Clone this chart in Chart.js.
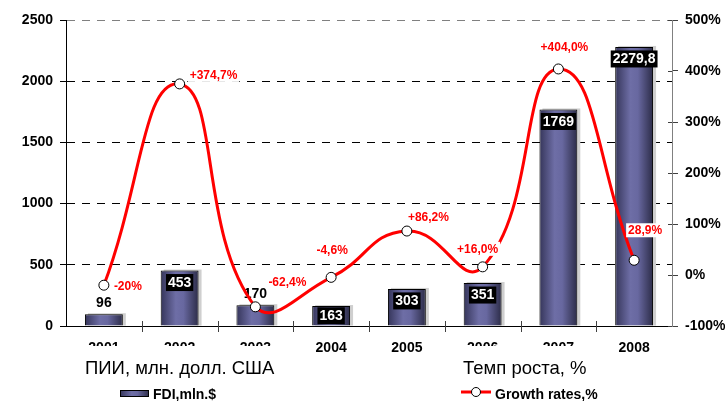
<!DOCTYPE html>
<html><head><meta charset="utf-8">
<script src="https://cdn.jsdelivr.net/npm/chart.js@4.4.1/dist/chart.umd.min.js"></script>
<style>html,body{margin:0;padding:0;background:#fff;}canvas{display:block;}</style>
</head><body>
<canvas id="c" width="725" height="401"></canvas>
<script>
// ---- data ----
const years = ['2001','2002','2003','2004','2005','2006','2007','2008'];
const fdi = [96, 453, 170, 163, 303, 351, 1769, 2279.8];
const growth = [-20, 374.7, -62.4, -4.6, 86.2, 16.0, 404.0, 28.9];
const growthLabels = ['-20%','+374,7%','-62,4%','-4,6%','+86,2%','+16,0%','+404,0%','28,9%'];
const leftTicks = [0, 500, 1000, 1500, 2000, 2500];
const rightTicks = [-100, 0, 100, 200, 300, 400, 500];
const fdiName = 'FDI,mln.$';
const growthName = 'Growth rates,%';
const leftTitle = 'ПИИ, млн. долл. США';
const rightTitle = 'Темп роста, %';

// ---- style ----
const FONT = '"Liberation Sans", Arial, sans-serif';
const BAR_PCT = 0.5;
const fdiBoxed = [false, true, false, true, true, true, true, true];
// [dx, dy, align] offsets of growth labels from their points
const growthLabelPos = [[10,1,'left'],[10,-9,'left'],[13,-25,'left'],[1,-27,'center'],[1,-14,'left'],[-5,-18,'center'],[6,-22,'center'],[11,-30,'center']];

function makeBarGradient(ctx2d, x0, x1) {
  const g = ctx2d.createLinearGradient(x0, 0, x1, 0);
  g.addColorStop(0, '#35355a');
  g.addColorStop(0.4, '#6e6ea6');
  g.addColorStop(0.6, '#6868a0');
  g.addColorStop(1, '#2c2c48');
  return g;
}

function barFill(c) {
  const chart = c.chart;
  const area = chart.chartArea;
  if (!area || c.type !== 'data') return '#5a5a8a';
  const x = chart.scales.x.getPixelForValue(c.dataIndex);
  const half = (area.right - area.left) / years.length * BAR_PCT / 2;
  return makeBarGradient(chart.ctx, x - half, x + half);
}

const decorPlugin = {
  id: 'decor',
  beforeDatasetDraw(chart, args) {
    if (args.index !== 0) return;
    const ctx = chart.ctx;
    ctx.save();
    ctx.fillStyle = '#cfcfcf';
    args.meta.data.forEach(b => {
      ctx.fillRect(b.x - b.width / 2 + 3, b.y - 1, b.width, b.base - b.y + 1);
    });
    ctx.restore();
  },
  afterDatasetDraw(chart, args) {
    if (args.index !== 0) return;
    const ctx = chart.ctx;
    ctx.save();
    ctx.font = 'bold 14px ' + FONT;
    ctx.textAlign = 'center';
    ctx.textBaseline = 'middle';
    args.meta.data.forEach((b, i) => {
      const txt = String(fdi[i]).replace('.', ',');
      if (fdiBoxed[i]) {
        const cy = b.y + Math.min(12, (b.base - b.y) / 2);
        const w = ctx.measureText(txt).width + 4;
        ctx.fillStyle = '#000';
        ctx.fillRect(b.x - w / 2, cy - 8.5, w, 17);
        ctx.fillStyle = '#fff';
        ctx.fillText(txt, b.x, cy + 0.5);
      } else {
        ctx.fillStyle = '#000';
        ctx.fillText(txt, b.x, b.y - 11);
      }
    });
    ctx.restore();
  },
  afterDatasetsDraw(chart) {
    const ctx = chart.ctx;
    const meta = chart.getDatasetMeta(1);
    ctx.save();
    ctx.font = 'bold 12px ' + FONT;
    ctx.textBaseline = 'middle';
    meta.data.forEach((p, i) => {
      const [dx, dy, al] = growthLabelPos[i];
      const txt = growthLabels[i];
      const w = ctx.measureText(txt).width;
      const x = p.x + dx, y = p.y + dy;
      const left = al === 'center' ? x - w / 2 : x;
      ctx.fillStyle = '#fff';
      ctx.fillRect(left - 2, y - 7, w + 4, 14);
      ctx.fillStyle = '#ff0000';
      ctx.textAlign = 'left';
      ctx.fillText(txt, left, y + 0.5);
    });
    ctx.restore();
  },
  afterDraw(chart) {
    const ctx = chart.ctx;
    const area = chart.chartArea;
    const xs = chart.scales.x;
    const y1 = chart.scales.y1;
    const catW = (area.right - area.left) / years.length;
    ctx.save();
    // category tick marks crossing the x axis
    ctx.strokeStyle = '#000';
    ctx.lineWidth = 1;
    ctx.beginPath();
    for (let i = 1; i < years.length; i++) {
      const x = Math.round(xs.getPixelForValue(i) - catW / 2) + 0.5;
      ctx.moveTo(x, area.bottom - 5);
      ctx.lineTo(x, area.bottom + 6);
    }
    // inner part of right axis ticks
    ctx.strokeStyle = '#404040';
    rightTicks.forEach(v => {
      const y = Math.round(y1.getPixelForValue(v)) + 0.5;
      ctx.moveTo(area.right - 4, y);
      ctx.lineTo(area.right, y);
    });
    ctx.stroke();

    // text boxes over the axis labels
    ctx.fillStyle = '#fff';
    ctx.fillRect(78, 346, 208, 34);
    ctx.fillRect(453, 346, 150, 34);
    ctx.fillStyle = '#000';
    ctx.font = '18.5px ' + FONT;
    ctx.textAlign = 'left';
    ctx.textBaseline = 'alphabetic';
    ctx.fillText(leftTitle, 85, 374);
    ctx.fillText(rightTitle, 463, 374);

    // legend
    ctx.fillStyle = makeBarGradient(ctx, 120, 149);
    ctx.fillRect(120, 390, 29, 7);
    ctx.strokeStyle = '#000';
    ctx.strokeRect(120.5, 390.5, 28, 6);
    ctx.font = 'bold 14px ' + FONT;
    ctx.textBaseline = 'middle';
    ctx.fillStyle = '#000';
    ctx.fillText(fdiName, 153, 395);

    ctx.strokeStyle = '#ff0000';
    ctx.lineWidth = 3;
    ctx.beginPath();
    ctx.moveTo(461, 392);
    ctx.lineTo(491, 392);
    ctx.stroke();
    ctx.beginPath();
    ctx.arc(476, 392, 4.5, 0, Math.PI * 2);
    ctx.fillStyle = '#fff';
    ctx.fill();
    ctx.lineWidth = 1;
    ctx.strokeStyle = '#000';
    ctx.stroke();
    ctx.fillStyle = '#000';
    ctx.fillText(growthName, 495, 395);
    ctx.restore();
  }
};

const tickFont = { family: FONT, size: 14, weight: 'bold' };

new Chart(document.getElementById('c'), {
  data: {
    labels: years,
    datasets: [
      {
        type: 'bar', label: fdiName, data: fdi, yAxisID: 'y', order: 2,
        backgroundColor: barFill, borderColor: '#000', borderWidth: 1,
        barPercentage: BAR_PCT, categoryPercentage: 1.0
      },
      {
        type: 'line', label: growthName, data: growth, yAxisID: 'y1', order: 1,
        borderColor: '#ff0000', borderWidth: 3, tension: 0.5, fill: false,
        pointRadius: 5, pointBackgroundColor: '#fff', pointBorderColor: '#000',
        pointBorderWidth: 1, clip: false
      }
    ]
  },
  options: {
    responsive: false, animation: false, devicePixelRatio: 1,
    layout: { padding: { top: 20, left: 0, right: 0, bottom: 0 } },
    plugins: { legend: { display: false }, tooltip: { enabled: false } },
    scales: {
      x: {
        position: 'bottom',
        grid: { display: false, drawTicks: false },
        border: { display: true, color: '#000', width: 1 },
        ticks: { font: tickFont, color: '#000', padding: 14, maxRotation: 0, autoSkip: false },
        afterFit: s => { s.height = 75; }
      },
      y: {
        position: 'left', min: 0, max: 2500,
        afterBuildTicks: s => { s.ticks = leftTicks.map(v => ({ value: v })); },
        grid: {
          color: c => c.tick.value === 2500 ? '#808080' : (c.tick.value === 0 ? 'rgba(0,0,0,0)' : '#000'),
          tickColor: '#000', tickLength: 6, tickBorderDash: []
        },
        border: { dash: [8, 7], color: '#000', width: 1 },
        ticks: { font: tickFont, color: '#000', padding: 7, callback: v => String(v) },
        afterFit: s => { s.width = 66; }
      },
      y1: {
        position: 'right', min: -100, max: 500,
        afterBuildTicks: s => { s.ticks = rightTicks.map(v => ({ value: v })); },
        grid: { drawOnChartArea: false, tickLength: 6, tickColor: '#404040' },
        border: { color: '#808080', width: 1 },
        ticks: { font: tickFont, color: '#000', padding: 7, callback: v => v + '%' },
        afterFit: s => { s.width = 53; }
      }
    }
  },
  plugins: [decorPlugin]
});
</script>
</body></html>
